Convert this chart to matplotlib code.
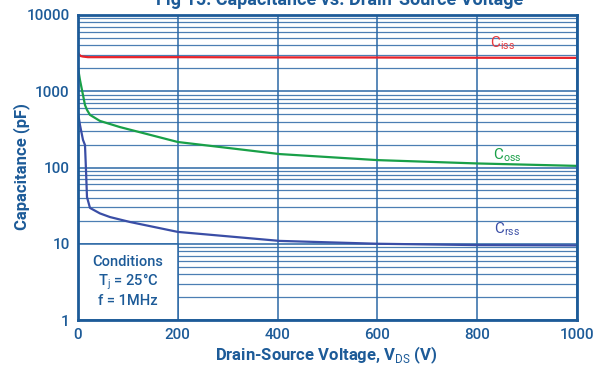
import matplotlib.pyplot as plt
from matplotlib.patches import Rectangle
from matplotlib.ticker import FixedLocator, NullFormatter

# data (V_DS in volts, capacitance in pF)
ciss_v = [0, 2, 5, 10, 20, 50, 200, 400, 600, 800, 1000]
ciss_c = [3250, 3050, 2900, 2850, 2800, 2800, 2800, 2780, 2770, 2750, 2740]

coss_v = [0, 4, 10, 14, 18, 24, 44, 84, 200, 404, 600, 800, 1000]
coss_c = [2020, 1400, 893, 660, 570, 490, 408, 339, 216, 150, 125, 113, 105]

crss_v = [0, 4, 10, 14, 16, 18, 24, 44, 64, 104, 200, 404, 600, 800, 1000]
crss_c = [520, 360, 230, 197, 93, 41, 29.5, 25, 22.4, 19.3, 14.3, 10.9, 10.0, 9.6, 9.5]

x_ticks = [0, 200, 400, 600, 800, 1000]
y_ticks = [1, 10, 100, 1000, 10000]

blue = '#1d5b98'
grid_c = '#2c68a6'
plt.rcParams['font.family'] = ['Roboto', 'DejaVu Sans']
plt.rcParams['mathtext.fontset'] = 'custom'
plt.rcParams['mathtext.rm'] = 'Roboto'

fig = plt.figure(figsize=(5.98, 3.65), dpi=100)
ax = fig.add_axes([78 / 598, 1 - 320 / 365, 499 / 598, 305 / 365])

ax.set_yscale('log')
ax.set_xlim(0, 1000)
ax.set_ylim(1, 10000)
ax.set_xticks(x_ticks)
ax.set_yticks(y_ticks)
ax.set_yticklabels([str(t) for t in y_ticks])
minors = [m * 10 ** d for d in range(4) for m in range(2, 10)]
ax.yaxis.set_minor_locator(FixedLocator(minors))
ax.yaxis.set_minor_formatter(NullFormatter())
ax.tick_params(which='both', length=0, colors=blue, labelsize=11, pad=6)
for lab in ax.get_xticklabels() + ax.get_yticklabels():
    lab.set_fontweight('medium')

ax.set_axisbelow(True)
ax.grid(True, which='major', color=grid_c, lw=1.1)
ax.grid(True, which='minor', axis='y', color=grid_c, lw=0.9, alpha=0.85)
for s in ax.spines.values():
    s.set_color(blue)
    s.set_linewidth(2)

# conditions box hides the grid in the bottom-left corner
ax.add_patch(Rectangle((0, 1), 200, 9, facecolor='white', edgecolor=grid_c,
                       lw=1.1, zorder=1))
ax.text(100, 3.2, 'Conditions\nT$_{\\rm j}$ = 25°C\nf = 1MHz', ha='center', va='center',
        color=blue, fontsize=10.5, fontweight='medium', linespacing=1.15, zorder=3)

ax.plot(ciss_v, ciss_c, color='#e8232a', lw=1.6, zorder=2)
ax.plot(coss_v, coss_c, color='#19a048', lw=1.6, zorder=2)
ax.plot(crss_v, crss_c, color='#3a4ea6', lw=1.6, zorder=2)

ax.text(850, 4250, r'C$_{\rm iss}$', color='#e8383d', fontsize=11, ha='center', va='center')
ax.text(860, 145, r'C$_{\rm oss}$', color='#19a048', fontsize=11, ha='center', va='center')
ax.text(860, 15.5, r'C$_{\rm rss}$', color='#3a4ea6', fontsize=11, ha='center', va='center')

fig.text(22 / 598, 1 - 167 / 365, 'Capacitance (pF)', color=blue, fontsize=12,
         fontweight='bold', rotation=90, ha='center', va='center')
fig.text(326 / 598, 1 - 355 / 365, r'Drain-Source Voltage, V$_{\rm DS}$ (V)', color=blue,
         fontsize=12, fontweight='bold', ha='center', va='center')
fig.text(340 / 598, 1.0, 'Fig 15: Capacitance vs. Drain-Source Voltage', color=blue,
         fontsize=13, fontweight='bold', ha='center', va='center')

fig.savefig('out.png', dpi=100)
